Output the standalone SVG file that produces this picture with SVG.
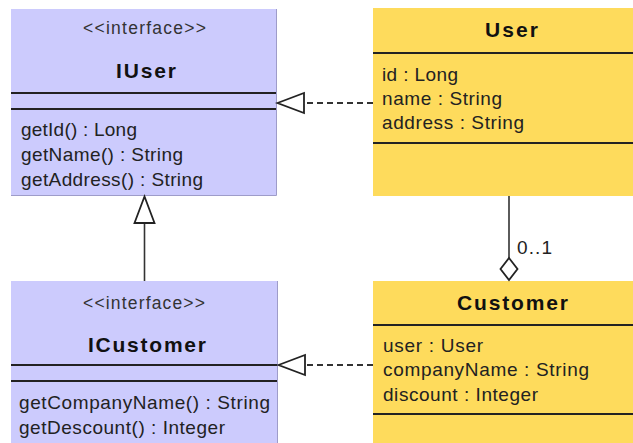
<svg xmlns="http://www.w3.org/2000/svg" width="633" height="443" viewBox="0 0 633 443">
<style>
.iface{fill:#cccbfd}
.cls{fill:#fedb5c}
.edge{stroke:#9e9cc9;stroke-width:1;fill:none}
.sep{stroke:#222;stroke-width:2}
.st{font-family:"Liberation Sans",Arial,sans-serif;font-size:17.5px;fill:#333;text-anchor:middle}
.nm{font-family:"Liberation Sans",Arial,sans-serif;font-size:21px;font-weight:bold;fill:#111;text-anchor:middle}
.tx{font-family:"Liberation Sans",Arial,sans-serif;font-size:19px;fill:#222}
.ln{stroke:#333;stroke-width:1.6;fill:none}
.dash{stroke:#333;stroke-width:1.8;fill:none;stroke-dasharray:6,4}
.head{stroke:#222;stroke-width:1.8;fill:#fff;stroke-linejoin:miter}
</style>
<rect width="633" height="443" fill="#fff"/>
<g id="IUser">
<rect class="iface" x="11" y="9" width="265" height="186"/>
<path class="edge" d="M276.5,9V195.5H11"/>
<text class="st" x="144.5" y="34" textLength="123" lengthAdjust="spacing">&lt;&lt;interface&gt;&gt;</text>
<text class="nm" x="146" y="78" textLength="60" lengthAdjust="spacing">IUser</text>
<line class="sep" x1="11" y1="93" x2="276" y2="93"/>
<line class="sep" x1="11" y1="109" x2="276" y2="109"/>
<text class="tx" x="21" y="136" textLength="116" lengthAdjust="spacing">getId() : Long</text>
<text class="tx" x="21" y="161" textLength="162" lengthAdjust="spacing">getName() : String</text>
<text class="tx" x="21" y="186" textLength="182" lengthAdjust="spacing">getAddress() : String</text>
</g>
<g id="User">
<rect class="cls" x="373" y="8" width="270" height="188"/>
<text class="nm" x="511.5" y="37" textLength="53" lengthAdjust="spacing">User</text>
<line class="sep" x1="373" y1="53" x2="633" y2="53"/>
<text class="tx" x="382" y="81" textLength="76" lengthAdjust="spacing">id : Long</text>
<text class="tx" x="382" y="105" textLength="120" lengthAdjust="spacing">name : String</text>
<text class="tx" x="382" y="129" textLength="142" lengthAdjust="spacing">address : String</text>
<line class="sep" x1="373" y1="143" x2="633" y2="143"/>
</g>
<g id="ICustomer">
<rect class="iface" x="11" y="281" width="266" height="170"/>
<path class="edge" d="M277.5,281V443"/>
<text class="st" x="144" y="309" textLength="122" lengthAdjust="spacing">&lt;&lt;interface&gt;&gt;</text>
<text class="nm" x="147" y="352" textLength="118" lengthAdjust="spacing">ICustomer</text>
<line class="sep" x1="11" y1="365" x2="277" y2="365"/>
<line class="sep" x1="11" y1="381" x2="277" y2="381"/>
<text class="tx" x="19" y="409" textLength="251" lengthAdjust="spacing">getCompanyName() : String</text>
<text class="tx" x="19" y="434" textLength="206" lengthAdjust="spacing">getDescount() : Integer</text>
</g>
<g id="Customer">
<rect class="cls" x="373" y="281" width="270" height="170"/>
<text class="nm" x="512.5" y="310" textLength="111" lengthAdjust="spacing">Customer</text>
<line class="sep" x1="373" y1="325" x2="633" y2="325"/>
<text class="tx" x="383" y="352" textLength="100" lengthAdjust="spacing">user : User</text>
<text class="tx" x="383" y="376" textLength="206" lengthAdjust="spacing">companyName : String</text>
<text class="tx" x="383" y="401" textLength="155" lengthAdjust="spacing">discount : Integer</text>
<line class="sep" x1="373" y1="414" x2="633" y2="414"/>
</g>
<g id="connectors">
<line class="dash" x1="373" y1="103" x2="305" y2="103"/>
<polygon class="head" points="277.5,103 304,93 304,113"/>
<line class="dash" x1="373" y1="365" x2="306" y2="365"/>
<polygon class="head" points="278.5,365 305,355 305,375"/>
<line class="ln" x1="144.5" y1="281" x2="144.5" y2="223"/>
<polygon class="head" points="144.5,196.5 134.5,223 154.5,223"/>
<line class="ln" x1="509" y1="196" x2="509" y2="258"/>
<polygon class="head" points="509,258 517.5,269 509,280 500.5,269"/>
<text class="tx" x="517" y="254" textLength="35" lengthAdjust="spacing">0..1</text>
</g>
</svg>
